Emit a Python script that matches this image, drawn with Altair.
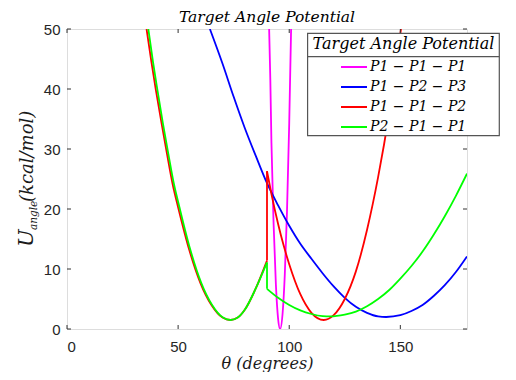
import altair as alt
import pandas as pd

series_names = ["P1 − P1 − P1", "P1 − P2 − P3", "P1 − P1 − P2", "P2 − P1 − P1"]
series_colors = ["#ff00ff", "#0000ff", "#ff0000", "#00ff00"]

# P1-P1-P1 (magenta)
mag_x = [90.9, 91.5, 92.0, 93.0, 94.0, 95.0, 95.9, 97.0, 98.0, 99.0, 100.0, 100.9]
mag_y = [51.0, 41.5, 31.0, 17.2, 7.4, 1.7, 0.0, 2.5, 9.0, 19.6, 34.3, 51.0]

# P1-P2-P3 (blue)
blue_x = [64.3, 70, 75, 80, 85, 90, 95, 100, 105, 110, 115, 120, 125, 130, 135, 140, 143.6, 150, 155, 160, 165, 170, 175, 180]
blue_y = [50.0, 44.2, 38.7, 33.5, 28.8, 24.3, 20.6, 17.2, 14.2, 11.7, 9.3, 7.1, 5.2, 3.7, 2.7, 2.1, 2.0, 2.3, 3.0, 4.0, 5.5, 7.3, 9.5, 12.1]

# P1-P1-P2 (red): left branch, jump at 90, right branch
red_left_x = [35.8, 38, 40, 42.5, 45, 47.5, 50, 55, 60, 65, 70, 73.5, 77, 80, 85, 90]
red_left_y = [50.0, 44.5, 39.8, 34.4, 29.2, 24.2, 20.3, 13.2, 7.7, 4.0, 1.9, 1.5, 1.95, 3.2, 6.8, 11.4]
red_jump_x = [90, 90]
red_jump_y = [11.4, 26.3]
red_right_x = [90, 92, 95, 97.5, 100, 105, 110, 115.5, 120, 125, 130, 135, 140, 145, 150.3]
red_right_y = [26.3, 22.5, 17.5, 13.9, 10.8, 5.8, 2.7, 1.5, 2.3, 5.0, 9.6, 16.5, 25.3, 36.0, 50.0]

# P2-P1-P1 (green): left branch, drop at 90, right branch
green_left_x = [36.6, 38.7, 40.7, 43.1, 45.6, 48.1, 50.6, 55.5, 60.4, 65.3, 70.2, 73.6, 77, 80, 85, 90]
green_left_y = [50.0, 44.5, 39.8, 34.4, 29.2, 24.2, 20.3, 13.2, 7.7, 4.0, 1.9, 1.5, 1.95, 3.2, 6.8, 11.1]
green_jump_x = [90, 90]
green_jump_y = [11.1, 6.7]
green_right_x = [90, 95, 100, 105, 110, 115, 118.5, 125, 130, 135, 140, 145, 150, 155, 160, 165, 170, 175, 180]
green_right_y = [6.7, 5.2, 4.0, 3.1, 2.5, 2.15, 2.1, 2.4, 2.9, 3.8, 5.0, 6.5, 8.4, 10.5, 12.9, 15.7, 18.8, 22.2, 25.9]

x_ticks = [0, 50, 100, 150]
y_ticks = [0, 10, 20, 30, 40, 50]

segments = [
    (series_names[0], "m", mag_x, mag_y),
    (series_names[1], "b", blue_x, blue_y),
    (series_names[2], "r1", red_left_x, red_left_y),
    (series_names[2], "r2", red_jump_x, red_jump_y),
    (series_names[2], "r3", red_right_x, red_right_y),
    (series_names[3], "g1", green_left_x, green_left_y),
    (series_names[3], "g2", green_jump_x, green_jump_y),
    (series_names[3], "g3", green_right_x, green_right_y),
]
rows = []
i = 0
for name, seg, xs, ys in segments:
    for xv, yv in zip(xs, ys):
        rows.append({"series": name, "seg": seg, "theta": xv, "u": yv, "idx": i})
        i += 1
df = pd.DataFrame(rows)

W, H = 400, 300
AX = "#4d4d4d"
SERIF = "DejaVu Serif"

xscale = alt.Scale(domain=[0, 180], nice=False, zero=False)
yscale = alt.Scale(domain=[0, 50], nice=False, zero=False)

x_axis = alt.Axis(values=x_ticks, title="θ (degrees)", grid=False, domain=False, tickSize=0,
                  labelPadding=10, labelFont="Liberation Sans", labelFontSize=15,
                  labelColor="#262626", titleFont=SERIF, titleFontStyle="italic",
                  titleFontWeight="normal", titleFontSize=16, titleColor="#1a1a1a",
                  titlePadding=1.5)
y_axis = alt.Axis(values=y_ticks, title=None, grid=False, domain=False, tickSize=0,
                  labelPadding=7, labelFont="Liberation Sans", labelFontSize=15,
                  labelColor="#262626")

lines = alt.Chart(df).mark_line(clip=True, strokeWidth=1.8, interpolate="monotone").encode(
    x=alt.X("theta:Q", scale=xscale, axis=x_axis),
    y=alt.Y("u:Q", scale=yscale, axis=y_axis),
    color=alt.Color("series:N", scale=alt.Scale(domain=series_names, range=series_colors),
                    legend=alt.Legend(orient="none", legendX=273, legendY=28.3, title=None,
                                      symbolType="stroke", symbolSize=676, symbolStrokeWidth=2,
                                      labelFont=SERIF, labelFontStyle="italic", labelFontSize=14,
                                      labelColor="#000000", labelOffset=2, rowPadding=0,
                                      clipHeight=19.2, padding=0)),
    detail="seg:N",
    order="idx:Q",
)

xt = pd.DataFrame({"theta": x_ticks})
yt = pd.DataFrame({"u": y_ticks})
tick_color = "#333333"
xt_bottom = alt.Chart(xt).mark_rule(color=tick_color).encode(
    x=alt.X("theta:Q", scale=xscale, axis=x_axis), y=alt.value(H), y2=alt.value(H - 4))
xt_top = alt.Chart(xt).mark_rule(color=tick_color).encode(
    x=alt.X("theta:Q", scale=xscale, axis=x_axis), y=alt.value(0), y2=alt.value(4))
yt_left = alt.Chart(yt).mark_rule(color=tick_color).encode(
    y=alt.Y("u:Q", scale=yscale, axis=y_axis), x=alt.value(0), x2=alt.value(4))
yt_right = alt.Chart(yt).mark_rule(color=tick_color).encode(
    y=alt.Y("u:Q", scale=yscale, axis=y_axis), x=alt.value(W), x2=alt.value(W - 4))

one = pd.DataFrame({"a": [0]})
legend_box = alt.Chart(one).mark_rect(fill="white", stroke="#555555", strokeWidth=1.2).encode(
    x=alt.value(240.6), x2=alt.value(432.3), y=alt.value(4.3), y2=alt.value(106.7))
legend_sep = alt.Chart(one).mark_rule(color="#555555", strokeWidth=1.2).encode(
    x=alt.value(240.6), x2=alt.value(432.3), y=alt.value(27.7))
legend_title = alt.Chart(one).mark_text(font=SERIF, fontStyle="italic", fontSize=16,
                                        align="center", baseline="middle", color="black").encode(
    x=alt.value(336.5), y=alt.value(15), text=alt.value("Target Angle Potential"))

chart_title = alt.Chart(one).mark_text(font=SERIF, fontStyle="italic", fontSize=15.5,
                                       align="center", baseline="alphabetic", color="black").encode(
    x=alt.value(W / 2), y=alt.value(-7.5), text=alt.value("Target Angle Potential"))

ylab_U = alt.Chart(one).mark_text(font=SERIF, fontStyle="italic", fontSize=21, angle=270,
                                  align="left", baseline="alphabetic", color="#1a1a1a").encode(
    x=alt.value(-34), y=alt.value(218), text=alt.value("U"))
ylab_sub = alt.Chart(one).mark_text(font=SERIF, fontStyle="italic", fontSize=10.5, angle=270,
                                    align="left", baseline="alphabetic", color="#1a1a1a").encode(
    x=alt.value(-30), y=alt.value(201), text=alt.value("angle"))
ylab_unit = alt.Chart(one).mark_text(font=SERIF, fontStyle="italic", fontSize=18, angle=270,
                                     align="left", baseline="alphabetic", color="#1a1a1a").encode(
    x=alt.value(-34), y=alt.value(173), text=alt.value("(kcal/mol)"))

chart = alt.layer(
    lines, xt_bottom, xt_top, yt_left, yt_right, legend_box, legend_sep, legend_title,
    chart_title, ylab_U, ylab_sub, ylab_unit,
).properties(
    width=W, height=H,
    autosize=alt.AutoSizeParams(type="none"),
    padding={"left": 59, "top": 21, "right": 33, "bottom": 43},
).configure_view(stroke=AX, strokeWidth=1).configure(background="white")

chart.save("out.html", embed_options={"renderer": "svg", "actions": False})
